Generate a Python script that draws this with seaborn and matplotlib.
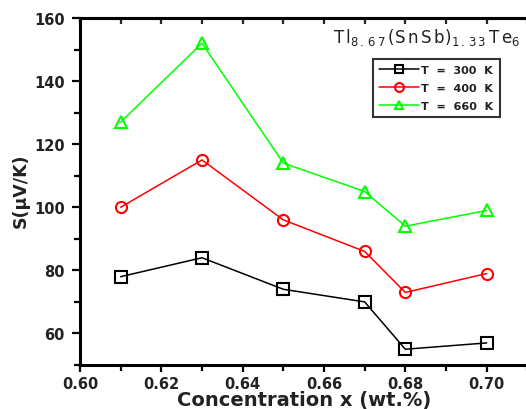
import matplotlib
matplotlib.use("Agg")
import matplotlib.pyplot as plt
from matplotlib.ticker import MultipleLocator
import seaborn as sns
import pandas as pd

concentration = [0.61, 0.63, 0.65, 0.67, 0.68, 0.70]
s_300 = [78, 84, 74, 70, 55, 57]
s_400 = [100, 115, 96, 86, 73, 79]
s_660 = [127, 152, 114, 105, 94, 99]
labels = ["T  =  300  K", "T  =  400  K", "T  =  660  K"]
x_ticks = [0.60, 0.62, 0.64, 0.66, 0.68, 0.70]
y_ticks = [60, 80, 100, 120, 140, 160]

sns.set_style("ticks")
plt.rcParams['font.family'] = ['DejaVu Sans']
plt.rcParams['mathtext.fontset'] = 'dejavusans'

fig = plt.figure(figsize=(5.26, 4.10), dpi=100)
ax = fig.add_axes([80/526, 44/410, 488/526, 347/410])

series = [(s_300, labels[0], "black", "s"),
          (s_400, labels[1], "red", "o"),
          (s_660, labels[2], "#00ff00", "^")]
for vals, lab, col, mk in series:
    df = pd.DataFrame({"x": concentration, "y": vals})
    sns.lineplot(data=df, x="x", y="y", ax=ax, color=col, marker=mk,
                 markersize=8, markerfacecolor="none", markeredgecolor=col,
                 markeredgewidth=1.5, linewidth=1.1, label=lab)

ax.set_xlim(0.60, 0.72)
ax.set_ylim(50, 160)
ax.xaxis.set_minor_locator(MultipleLocator(0.01))
ax.yaxis.set_minor_locator(MultipleLocator(10))
ax.set_yticks(y_ticks)
ax.set_xticks(x_ticks)
ax.set_xticklabels([f"{v:.2f}" for v in x_ticks])
ax.set_yticklabels([str(v) for v in y_ticks])

for sp in ["left", "bottom", "top", "right"]:
    ax.spines[sp].set_visible(True)
    ax.spines[sp].set_linewidth(2.2)
    ax.spines[sp].set_color("black")

ax.tick_params(axis="both", which="both", direction="out", width=1.6,
               labelsize=10.5, colors="black", labelcolor="#222222")
ax.tick_params(axis="x", which="major", length=5, pad=3)
ax.tick_params(axis="x", which="minor", length=4)
ax.tick_params(axis="y", which="major", length=6, pad=5)
ax.tick_params(axis="y", which="minor", length=4)
for lbl in ax.get_xticklabels() + ax.get_yticklabels():
    lbl.set_fontweight("bold")

top = ax.secondary_xaxis("top")
top.set_xticks(x_ticks)
top.xaxis.set_minor_locator(MultipleLocator(0.01))
top.tick_params(axis="x", which="both", direction="in", length=4, width=1.6,
                labeltop=False)
top.spines["top"].set_linewidth(2.2)

ax.set_xlabel("Concentration x (wt.%)", fontsize=14, fontweight="bold",
              color="#222222")
ax.xaxis.set_label_coords(0.459, -0.072)
ax.set_ylabel("S(\u03bcV/K)", fontsize=12.5, fontweight="bold", color="#222222")
ax.yaxis.set_label_coords(-0.103, 0.505)

ax.text(333/526, 1 - 43/410,
        r"$\mathregular{T\,l_{8\,.\,6\,7}\,(S\,n\,S\,b)_{1\,.\,3\,3}\,T\,e_{6}}$",
        transform=fig.transFigure, fontsize=12, color="#222222",
        ha="left", va="baseline")

leg = ax.legend(loc="upper left", bbox_to_anchor=(373/526, 1 - 60/410),
                bbox_transform=fig.transFigure, frameon=True, fancybox=False,
                edgecolor="black", fontsize=8, handlelength=3.6,
                borderpad=0.55, labelspacing=0.7, handletextpad=0.2,
                borderaxespad=0, markerscale=0.8)
leg.get_frame().set_linewidth(1.5)
for t in leg.get_texts():
    t.set_fontweight("bold")
    t.set_color("#222222")

fig.savefig("out.png", dpi=100)
